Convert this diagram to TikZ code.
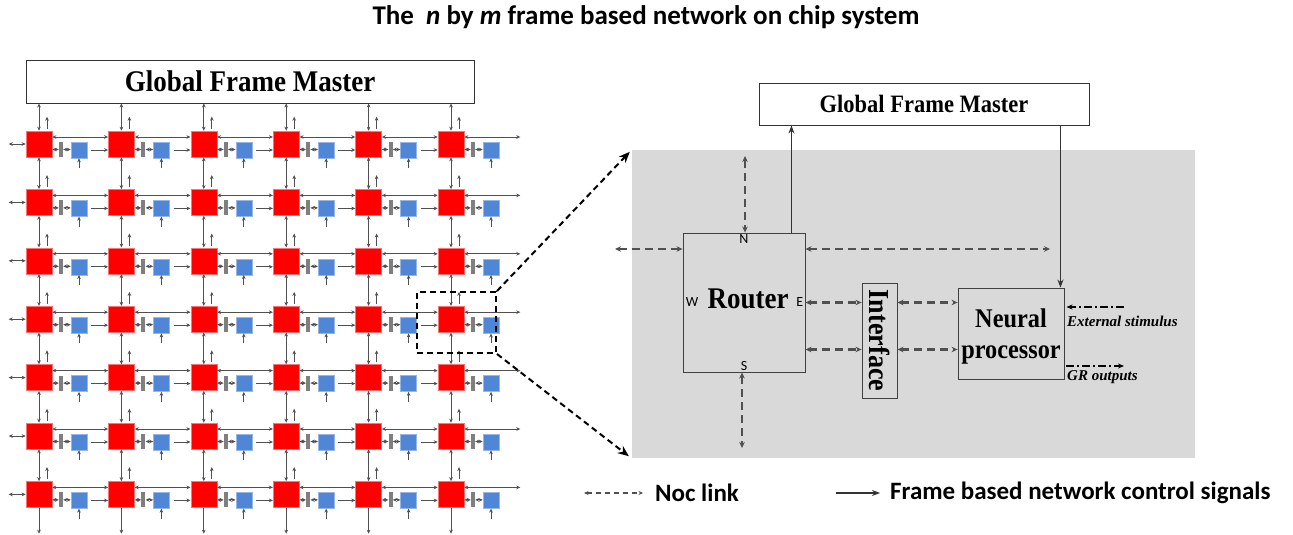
\documentclass[tikz,border=0pt]{standalone}
\usepackage{fontspec}
\setmainfont{Liberation Serif}
\setsansfont{Carlito}
\newfontfamily\narrowserif[FakeStretch=0.9]{Liberation Serif}
\usetikzlibrary{arrows.meta,positioning,calc}
\definecolor{routerred}{HTML}{FF0000}
\definecolor{peblue}{HTML}{4F86D6}
\definecolor{linkgray}{HTML}{505050}
\definecolor{bargray}{HTML}{7F7F7F}
\definecolor{panelgray}{HTML}{D9D9D9}
\newcommand{\BigSerif}[1]{\narrowserif\bfseries\fontsize{#1}{#1}\selectfont}

\begin{document}
\begin{tikzpicture}[
  x=1pt, y=-1pt,
  router/.style={fill=routerred, draw=red!55!white, line width=0.6pt, minimum size=26pt, inner sep=0pt},
  ibar/.style={fill=bargray, minimum width=4pt, minimum height=15pt, inner sep=0pt},
  pe/.style={fill=peblue, draw=peblue!60!white, line width=0.5pt, minimum size=16pt, inner sep=0pt},
  link/.style={{Stealth[length=4pt,width=3.6pt]}-{Stealth[length=4pt,width=3.6pt]}, linkgray, line width=1pt},
  ctrl/.style={-{Stealth[length=4pt,width=3.6pt]}, linkgray, line width=1pt},
  box/.style={draw=black!80, fill=white, line width=0.9pt, inner sep=0pt},
  pbox/.style={draw=black!75, line width=0.9pt, inner sep=0pt},
  noc/.style={{Stealth[length=6pt,width=5.5pt]}-{Stealth[length=6pt,width=5.5pt]}, linkgray, line width=2.4pt, dash pattern=on 8pt off 5pt},
  sig/.style={-{Stealth[length=8pt,width=6pt]}, black!80, line width=1.1pt},
  dashdot/.style={black, line width=1.3pt, dash pattern=on 8pt off 3pt on 2pt off 3pt},
  zoomline/.style={-{Stealth[length=11pt,width=9pt]}, line width=2pt, dash pattern=on 6pt off 4pt},
  dir/.style={font=\sffamily\fontsize{14}{14}\selectfont, inner sep=1pt},
  legend/.style={font=\sffamily\bfseries\fontsize{25}{25}\selectfont, anchor=west, inner sep=0pt}
]
  \useasboundingbox (0,0) rectangle (1293,535);

  % Title
  \node[font=\sffamily\bfseries\fontsize{27}{27}\selectfont] (title) at (646,17) {The~ \textit{n} by \textit{m} frame based network on chip system};

  % Global frame master of the mesh
  \node[box, minimum width=448pt, minimum height=43pt, font=\BigSerif{30}] (gfmL) at (250,81.5) {Global Frame Master};

  % Router grid
  \foreach \i in {0,...,5}{
    \foreach \j in {0,...,6}{
      \node[router] (r-\i-\j) at ({39+82.4*\i},{144+58.4*\j}) {};
      \node[ibar] (g-\i-\j) at ($(r-\i-\j)+(22,5.5)$) {};
      \node[pe] (b-\i-\j) at ($(r-\i-\j)+(40,6)$) {};
    }
  }

  % Links of the grid
  \foreach \i in {0,...,5}{
    \foreach \j in {0,...,6}{
      \pgfmathtruncatemacro\ni{\i+1}
      \pgfmathtruncatemacro\nj{\j+1}
      \draw[link] (r-\i-\j.east |- g-\i-\j.west) -- (g-\i-\j.west);
      \draw[link] (g-\i-\j.east) -- (g-\i-\j.east -| b-\i-\j.west);
      \draw[ctrl] ($(b-\i-\j.south)+(0,10)$) -- (b-\i-\j.south);
      \draw[ctrl] ($(r-\i-\j.north)+(8,-2)$) -- ++(0,-12);
      \ifnum\i<5
        \draw[link] ([yshift=7pt]r-\i-\j.east) -- ([yshift=7pt]r-\ni-\j.west);
        \draw[ctrl] ($(b-\i-\j.east)+(4,0)$) -- (r-\ni-\j.west |- b-\i-\j.east);
      \else
        \draw[link] ([yshift=7pt]r-\i-\j.east) -- ++(56,0);
      \fi
      \ifnum\i=0
        \draw[link] ($(r-\i-\j.west)+(-17,0)$) -- (r-\i-\j.west);
      \fi
      \ifnum\j<6
        \draw[link] (r-\i-\j.south) -- (r-\i-\nj.north);
      \else
        \draw[ctrl] (r-\i-\j.south) -- ++(0,26);
      \fi
      \ifnum\j=0
        \draw[link] (gfmL.south -| r-\i-\j.north) -- (r-\i-\j.north);
      \fi
    }
  }

  % Zoomed tile
  \node[fill=panelgray, minimum width=563pt, minimum height=308pt, inner sep=0pt] (panel) at (913.5,304) {};
  \node[draw, line width=2pt, dash pattern=on 6pt off 4pt, minimum width=79pt, minimum height=61pt, inner sep=0pt] (zoombox) at (456.5,322.5) {};
  \draw[zoomline] (zoombox.north east) -- ($(panel.north west)+(-2,2)$);
  \draw[zoomline] (zoombox.south east) -- ($(panel.south west)+(-3,-2)$);

  \node[box, minimum width=330pt, minimum height=42pt, font=\BigSerif{25}] (gfmR) at (924,104) {Global Frame Master};

  % Router
  \node[pbox, minimum width=122pt, minimum height=139pt] (router) at (744,302.5) {};
  \node[font=\BigSerif{30}] (routerTxt) at (748,299) {Router};
  \node[dir, below=1pt of router.north] (rN) {N};
  \node[dir, right=2pt of router.west] (rW) {W};
  \node[dir, left=1pt of router.east] (rE) {E};
  \node[dir, above=1pt of router.south] (rS) {S};

  % Interface and neural processor
  \node[pbox, minimum width=35pt, minimum height=115pt] (iface) at (879.5,340.5) {};
  \node[rotate=-90, font=\BigSerif{29}] (ifaceTxt) at (iface.center) {Interface};
  \node[pbox, minimum width=106pt, minimum height=91pt] (neural) at (1011,333.5) {};
  \node[align=center, inner sep=0pt, font=\narrowserif\bfseries\fontsize{27}{31}\selectfont] (neuralTxt) at (1011,337) {Neural\\processor};

  % Noc links
  \coordinate (nEnd) at (745,156);
  \coordinate (wEnd) at (615,249);
  \coordinate (eEnd) at (1050,249);
  \coordinate (sEnd) at (742,448);
  \coordinate (lowE) at ($(router.east)+(0,47)$);
  \draw[noc] (nEnd) -- (nEnd |- router.north);
  \draw[noc] (wEnd) -- (wEnd -| router.west);
  \draw[noc] (eEnd -| router.east) -- (eEnd);
  \draw[noc] (router.south -| sEnd) -- (sEnd);
  \draw[noc] (router.east) -- (router.east -| iface.west);
  \draw[noc] (lowE) -- (lowE -| iface.west);
  \draw[noc] (iface.east |- router.east) -- (neural.west |- router.east);
  \draw[noc] (iface.east |- lowE) -- (neural.west |- lowE);

  % Frame control signals
  \coordinate (rUp) at ($(router.north east)+(-14,0)$);
  \coordinate (nDown) at ($(neural.north east)+(-4,0)$);
  \draw[sig] (rUp) -- (rUp |- gfmR.south);
  \draw[sig] (gfmR.south -| nDown) -- (nDown);

  % Stimulus and outputs
  \coordinate (extIn) at (1124,307);
  \coordinate (grOut) at (1124,366);
  \draw[dashdot, -{Stealth[length=6pt,width=5pt]}] (extIn) -- ($(extIn -| neural.east)+(2,0)$);
  \draw[dashdot, -{Stealth[length=6pt,width=5pt]}] ($(grOut -| neural.east)+(2,0)$) -- (grOut);
  \node[anchor=west, inner sep=0pt, font=\bfseries\itshape\fontsize{15}{15}\selectfont] (extTxt) at (1067,321) {External stimulus};
  \node[anchor=west, inner sep=0pt, font=\bfseries\itshape\fontsize{15}{15}\selectfont] (grTxt) at (1067,377) {GR outputs};

  % Legend
  \node[legend] (nocTxt) at (655,493) {Noc link};
  \node[legend] (sigTxt) at (890,493) {Frame based network control signals};
  \draw[{Stealth[length=4.5pt,width=4pt]}-{Stealth[length=4.5pt,width=4pt]}, linkgray, line width=1.6pt, dash pattern=on 5pt off 4pt] ([xshift=-71pt]nocTxt.west) -- ([xshift=-12pt]nocTxt.west);
  \draw[sig] ([xshift=-54pt]sigTxt.west) -- ([xshift=-10pt]sigTxt.west);

\end{tikzpicture}
\end{document}
